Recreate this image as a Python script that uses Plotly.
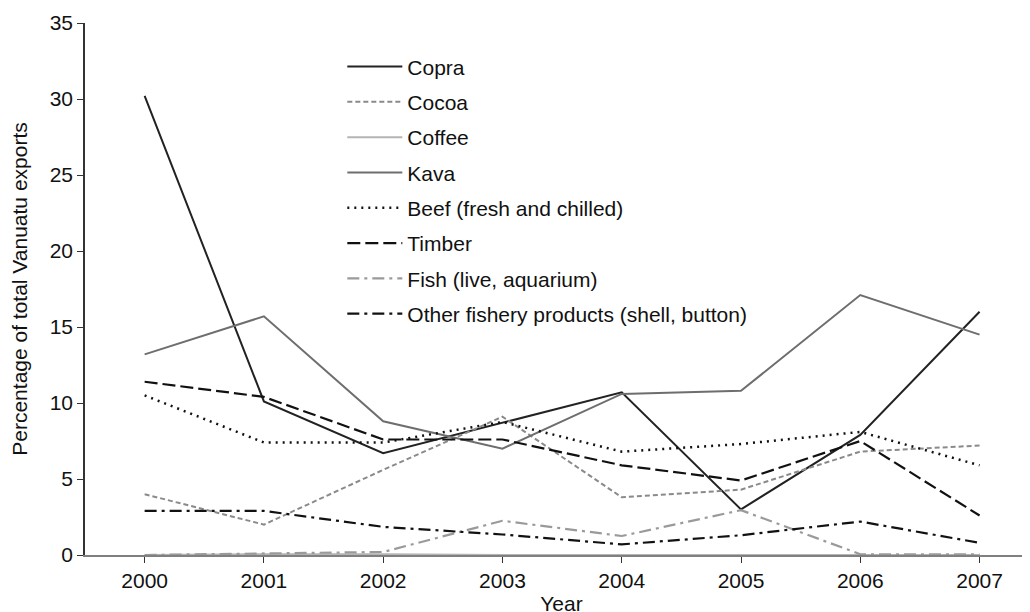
import plotly.graph_objects as go

years = [2000, 2001, 2002, 2003, 2004, 2005, 2006, 2007]
copra = [30.2, 10.1, 6.7, 8.7, 10.7, 3.0, 7.9, 16.0]
cocoa = [4.0, 2.0, 5.6, 9.1, 3.8, 4.3, 6.8, 7.2]
coffee = [0.0, 0.05, 0.05, 0.0, 0.0, 0.0, 0.0, 0.0]
kava = [13.2, 15.7, 8.8, 7.0, 10.6, 10.8, 17.1, 14.5]
beef = [10.5, 7.4, 7.4, 8.75, 6.8, 7.3, 8.1, 5.9]
timber = [11.4, 10.4, 7.6, 7.6, 5.9, 4.9, 7.5, 2.6]
fish = [0.0, 0.1, 0.2, 2.25, 1.25, 2.95, 0.05, 0.05]
other_fishery = [2.9, 2.9, 1.85, 1.35, 0.7, 1.3, 2.2, 0.8]

series = [
    ("Copra", copra, "#222222", "solid", 2),
    ("Cocoa", cocoa, "#8a8a8a", "5px,3px", 2),
    ("Coffee", coffee, "#b4b4b4", "solid", 2),
    ("Kava", kava, "#6e6e6e", "solid", 2),
    ("Beef (fresh and chilled)", beef, "#111111", "2px,5px", 2.5),
    ("Timber", timber, "#111111", "13px,5px", 2.2),
    ("Fish (live, aquarium)", fish, "#9a9a9a", "12px,5px,3px,5px", 2.2),
    ("Other fishery products (shell, button)", other_fishery, "#111111", "12px,5px,3px,5px", 2.2),
]

fig = go.Figure()
for i, (name, vals, color, dash, w) in enumerate(series):
    fig.add_trace(go.Scatter(
        x=years, y=vals, name=name, mode="lines",
        line=dict(color=color, dash=dash, width=w),
        legendgroup=f"g{i}",
    ))

font_family = "Liberation Sans, Arial, Helvetica, sans-serif"

fig.update_layout(
    width=1030, height=612,
    margin=dict(l=77, r=0, t=15, b=65),
    paper_bgcolor="white", plot_bgcolor="white",
    font=dict(family=font_family, size=21, color="#111111"),
    showlegend=True,
    legend=dict(
        x=0.27, y=0.956, xanchor="left", yanchor="top",
        bgcolor="rgba(0,0,0,0)", borderwidth=0,
        traceorder="grouped", tracegroupgap=5,
        itemwidth=55,
        font=dict(family=font_family, size=21, color="#111111"),
    ),
    xaxis=dict(
        range=[1999.5, 2007.49],
        tickmode="array", tickvals=years, ticktext=[str(y) for y in years],
        showgrid=False, zeroline=False,
        showline=True, linecolor="#808080", linewidth=2,
        ticks="outside", ticklen=6, tickcolor="#333333", tickwidth=1,
        title=dict(text="Year", standoff=5, font=dict(size=21)),
        tickfont=dict(size=21),
    ),
    yaxis=dict(
        range=[0, 35],
        tickmode="array", tickvals=[0, 5, 10, 15, 20, 25, 30, 35],
        showgrid=False, zeroline=False,
        showline=True, linecolor="#333333", linewidth=1.5,
        ticks="outside", ticklen=6, tickcolor="#333333", tickwidth=1,
        title=dict(text="Percentage of total Vanuatu exports", standoff=20, font=dict(size=21)),
        tickfont=dict(size=21),
        automargin=False,
    ),
)

fig.write_html("out.html")
